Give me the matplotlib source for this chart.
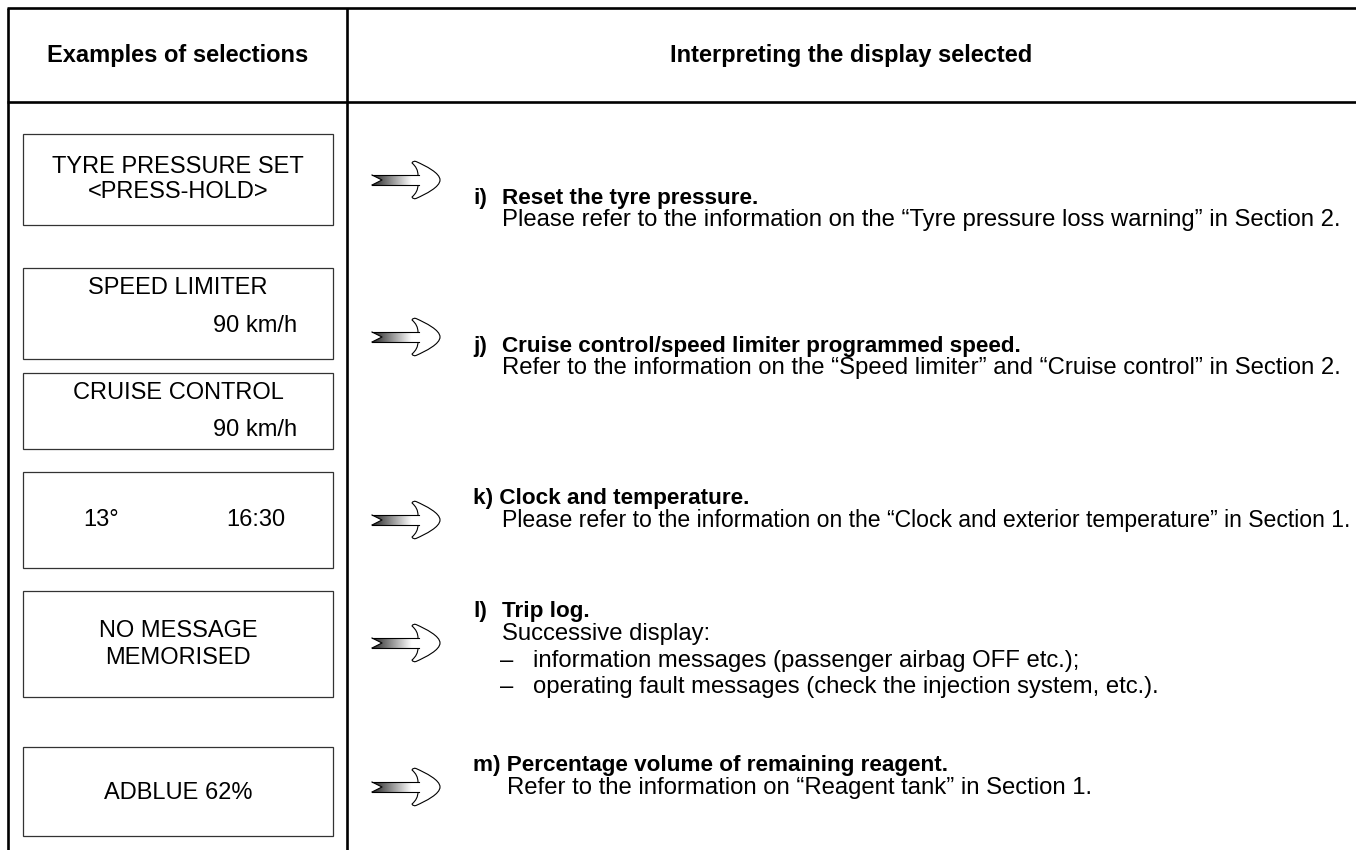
import matplotlib
matplotlib.use("Agg")
import matplotlib.pyplot as plt
from matplotlib.path import Path
from matplotlib.patches import PathPatch, Rectangle
import numpy as np

# ---------------- content ----------------
header_left = "Examples of selections"
header_right = "Interpreting the display selected"

box_texts = [
    ["TYRE PRESSURE SET", "<PRESS-HOLD>"],
    ["SPEED LIMITER", "90 km/h"],
    ["CRUISE CONTROL", "90 km/h"],
    ["13°", "16:30"],
    ["NO MESSAGE", "MEMORISED"],
    ["ADBLUE 62%"],
]

item_labels = ["i)", "j)", "k)", "l)", "m)"]
item_titles = [
    "Reset the tyre pressure.",
    "Cruise control/speed limiter programmed speed.",
    "Clock and temperature.",
    "Trip log.",
    "Percentage volume of remaining reagent.",
]
item_bodies = [
    ["Please refer to the information on the \u201cTyre pressure loss warning\u201d in Section 2."],
    ["Refer to the information on the \u201cSpeed limiter\u201d and \u201cCruise control\u201d in Section 2."],
    ["Please refer to the information on the \u201cClock and exterior temperature\u201d in Section 1."],
    ["Successive display:"],
    ["Refer to the information on \u201cReagent tank\u201d in Section 1."],
]
trip_bullets = [
    "information messages (passenger airbag OFF etc.);",
    "operating fault messages (check the injection system, etc.).",
]

# ---------------- layout (pixels, y down) ----------------
W, H = 1356, 850
FONT = "Liberation Sans"
LEFT, TOP, DIV, HEAD_Y = 8, 8, 347, 102
BOX_X0, BOX_X1 = 23, 333
box_y = [(134, 225), (268, 359), (373, 449), (472, 568), (591, 697), (747, 836)]
box_text_pos = [
    [(178, 167, "center"), (178, 192, "center")],
    [(178, 288, "center"), (297, 326, "right")],
    [(178, 393, "center"), (297, 430, "right")],
    [(101, 520, "center"), (256, 520, "center")],
    [(178, 631, "center"), (178, 658, "center")],
    [(178, 793, "center")],
]
title_y = [198, 346, 498, 612, 766]
body_y = [[220], [368], [520], [634], [788]]
body_fs = [17.2, 17.2, 16.6, 17.2, 17.2]
bullet_y = [661, 687]
arrow_y = [180, 337, 520, 643, 787]
ARROW_X = 372
LABEL_X, TITLE_X, BODY_X = 473, 502, 502
LBL_FS, TTL_FS, TXT_FS, HDR_FS = 17, 16.2, 17.2, 17

fig = plt.figure(figsize=(W / 100, H / 100), dpi=100)
ax = fig.add_axes([0, 0, 1, 1])
ax.set_xlim(0, W)
ax.set_ylim(H, 0)
ax.axis("off")

# frame
lw_frame = 1.9
ax.plot([LEFT, LEFT], [TOP, H + 5], color="black", lw=lw_frame, solid_capstyle="butt")
ax.plot([DIV, DIV], [TOP, H + 5], color="black", lw=lw_frame, solid_capstyle="butt")
ax.plot([LEFT - 1, W + 5], [TOP, TOP], color="black", lw=lw_frame, solid_capstyle="butt")
ax.plot([LEFT - 1, W + 5], [HEAD_Y, HEAD_Y], color="black", lw=lw_frame, solid_capstyle="butt")

ax.text((LEFT + DIV) / 2, 55, header_left, ha="center", va="center",
        fontsize=HDR_FS, fontweight="bold", family=FONT)
ax.text((DIV + W) / 2, 55, header_right, ha="center", va="center",
        fontsize=HDR_FS, fontweight="bold", family=FONT)

# display boxes
for (y0, y1), lines, pos in zip(box_y, box_texts, box_text_pos):
    ax.add_patch(Rectangle((BOX_X0, y0), BOX_X1 - BOX_X0, y1 - y0, fill=False,
                           edgecolor="#333333", lw=0.9))
    for txt, (x, y, ha) in zip(lines, pos):
        ax.text(x, y, txt, ha=ha, va="center", fontsize=LBL_FS, family=FONT)


def draw_arrow(x0, yc):
    # head
    hv = [(46, -5), (46, -12), (40, -17), (41, -19.5), (44, -18.5),
          (54, -14), (68, -7), (68, 0), (68, 7), (54, 14), (44, 18.5),
          (41, 19.5), (40, 17), (46, 12), (46, 5), (46, -5)]
    hc = [Path.MOVETO, Path.CURVE3, Path.CURVE3, Path.CURVE3, Path.CURVE3,
          Path.CURVE4, Path.CURVE4, Path.CURVE4, Path.CURVE4, Path.CURVE4, Path.CURVE4,
          Path.CURVE3, Path.CURVE3, Path.CURVE3, Path.CURVE3, Path.CLOSEPOLY]
    hv = [(x0 + a, yc + b) for a, b in hv]
    ax.add_patch(PathPatch(Path(hv, hc), facecolor="white", edgecolor="black", lw=0.8, zorder=3))
    # shaft
    sv = [(0, -5), (47, -5), (47, 5), (0, 5), (10, 0), (0, -5)]
    sv = [(x0 + a, yc + b) for a, b in sv]
    sp = PathPatch(Path(sv, [Path.MOVETO] + [Path.LINETO] * 4 + [Path.CLOSEPOLY]),
                   facecolor="none", edgecolor="none", zorder=4)
    ax.add_patch(sp)
    grad = np.clip(np.linspace(0.15, 1.15, 200), 0, 1)[None, :]
    im = ax.imshow(grad, cmap="gray", vmin=0, vmax=1, aspect="auto",
                   extent=(x0, x0 + 47, yc + 5, yc - 5), zorder=4, interpolation="bilinear")
    im.set_clip_path(sp)
    ax.plot([x0, x0 + 46.5], [yc - 5, yc - 5], color="black", lw=0.8, zorder=5)
    ax.plot([x0, x0 + 46.5], [yc + 5, yc + 5], color="black", lw=0.8, zorder=5)
    ax.plot([x0, x0 + 10, x0], [yc - 5, yc, yc + 5], color="black", lw=0.8, zorder=5)


for i in range(len(item_labels)):
    draw_arrow(ARROW_X, arrow_y[i])
    if item_labels[i] in ("k)", "m)"):
        ax.text(LABEL_X, title_y[i], item_labels[i] + " " + item_titles[i], ha="left",
                va="center", fontsize=TTL_FS, fontweight="bold", family=FONT)
    else:
        ax.text(LABEL_X, title_y[i], item_labels[i], ha="left", va="center",
                fontsize=TTL_FS, fontweight="bold", family=FONT)
        ax.text(TITLE_X, title_y[i], item_titles[i], ha="left", va="center",
                fontsize=TTL_FS, fontweight="bold", family=FONT)
    bx = BODY_X + (5 if item_labels[i] == "m)" else 0)
    for txt, y in zip(item_bodies[i], body_y[i]):
        ax.text(bx, y, txt, ha="left", va="center", fontsize=body_fs[i], family=FONT)

for txt, y in zip(trip_bullets, bullet_y):
    ax.text(500, y, "\u2013", ha="left", va="center", fontsize=TXT_FS, family=FONT)
    ax.text(533, y, txt, ha="left", va="center", fontsize=TXT_FS, family=FONT)

fig.savefig("out.png", dpi=100)
